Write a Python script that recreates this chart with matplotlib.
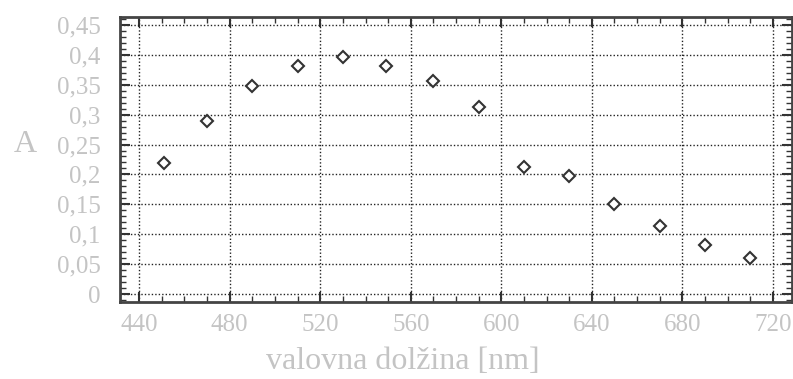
import matplotlib
matplotlib.use("Agg")
import matplotlib.pyplot as plt
from matplotlib.ticker import MultipleLocator, FuncFormatter

# wavelengths [nm] and absorbance
wavelength = [451, 470, 490, 510, 530, 549, 570, 590, 610, 630, 650, 670, 690, 710]
absorbance = [0.219, 0.289, 0.348, 0.381, 0.396, 0.381, 0.356, 0.313,
              0.212, 0.197, 0.150, 0.114, 0.082, 0.060]

x_ticks = [440, 480, 520, 560, 600, 640, 680, 720]
y_ticks = [0, 0.05, 0.1, 0.15, 0.2, 0.25, 0.3, 0.35, 0.4, 0.45]

text_col = "#c4c4c4"
plt.rcParams["font.family"] = ["Liberation Serif", "DejaVu Serif"]

fig = plt.figure(figsize=(7.93, 3.79), dpi=100)
ax = fig.add_axes([0.1513, 0.2032, 0.8475, 0.752])

ax.plot(wavelength, absorbance, linestyle="none", marker="D", markersize=6.5,
        markerfacecolor="white", markeredgecolor="#333333", markeredgewidth=1.5, zorder=3)

ax.set_xlim(431.5, 728.5)
ax.set_ylim(-0.013, 0.463)
ax.set_xticks(x_ticks)
ax.set_yticks(y_ticks)
ax.xaxis.set_minor_locator(MultipleLocator(10))
ax.yaxis.set_minor_locator(MultipleLocator(0.01))

def comma(v, pos):
    s = f"{v:.2f}".rstrip("0").rstrip(".")
    return s.replace(".", ",")

ax.yaxis.set_major_formatter(FuncFormatter(comma))

ax.grid(True, which="major", color="#222222", linestyle=(0, (1, 1.5)), linewidth=1.0)
ax.tick_params(which="both", direction="in", top=True, right=True, colors="#333333",
               labelcolor=text_col, labelsize=18)
ax.tick_params(which="major", length=7, width=1.5)
ax.tick_params(which="minor", length=4, width=1)
ax.tick_params(axis="x", pad=9)
ax.tick_params(axis="y", pad=14)
for sp in ax.spines.values():
    sp.set_color("#444444")
    sp.set_linewidth(2)

ax.set_xlabel("valovna dolžina [nm]", color=text_col, fontsize=23, va="baseline")
ax.xaxis.set_label_coords(0.421, -0.236)
ax.set_ylabel("A", color=text_col, fontsize=23, rotation=0, va="center", ha="center")
ax.yaxis.set_label_coords(-0.141, 0.551)

fig.savefig("out.png", dpi=100)
